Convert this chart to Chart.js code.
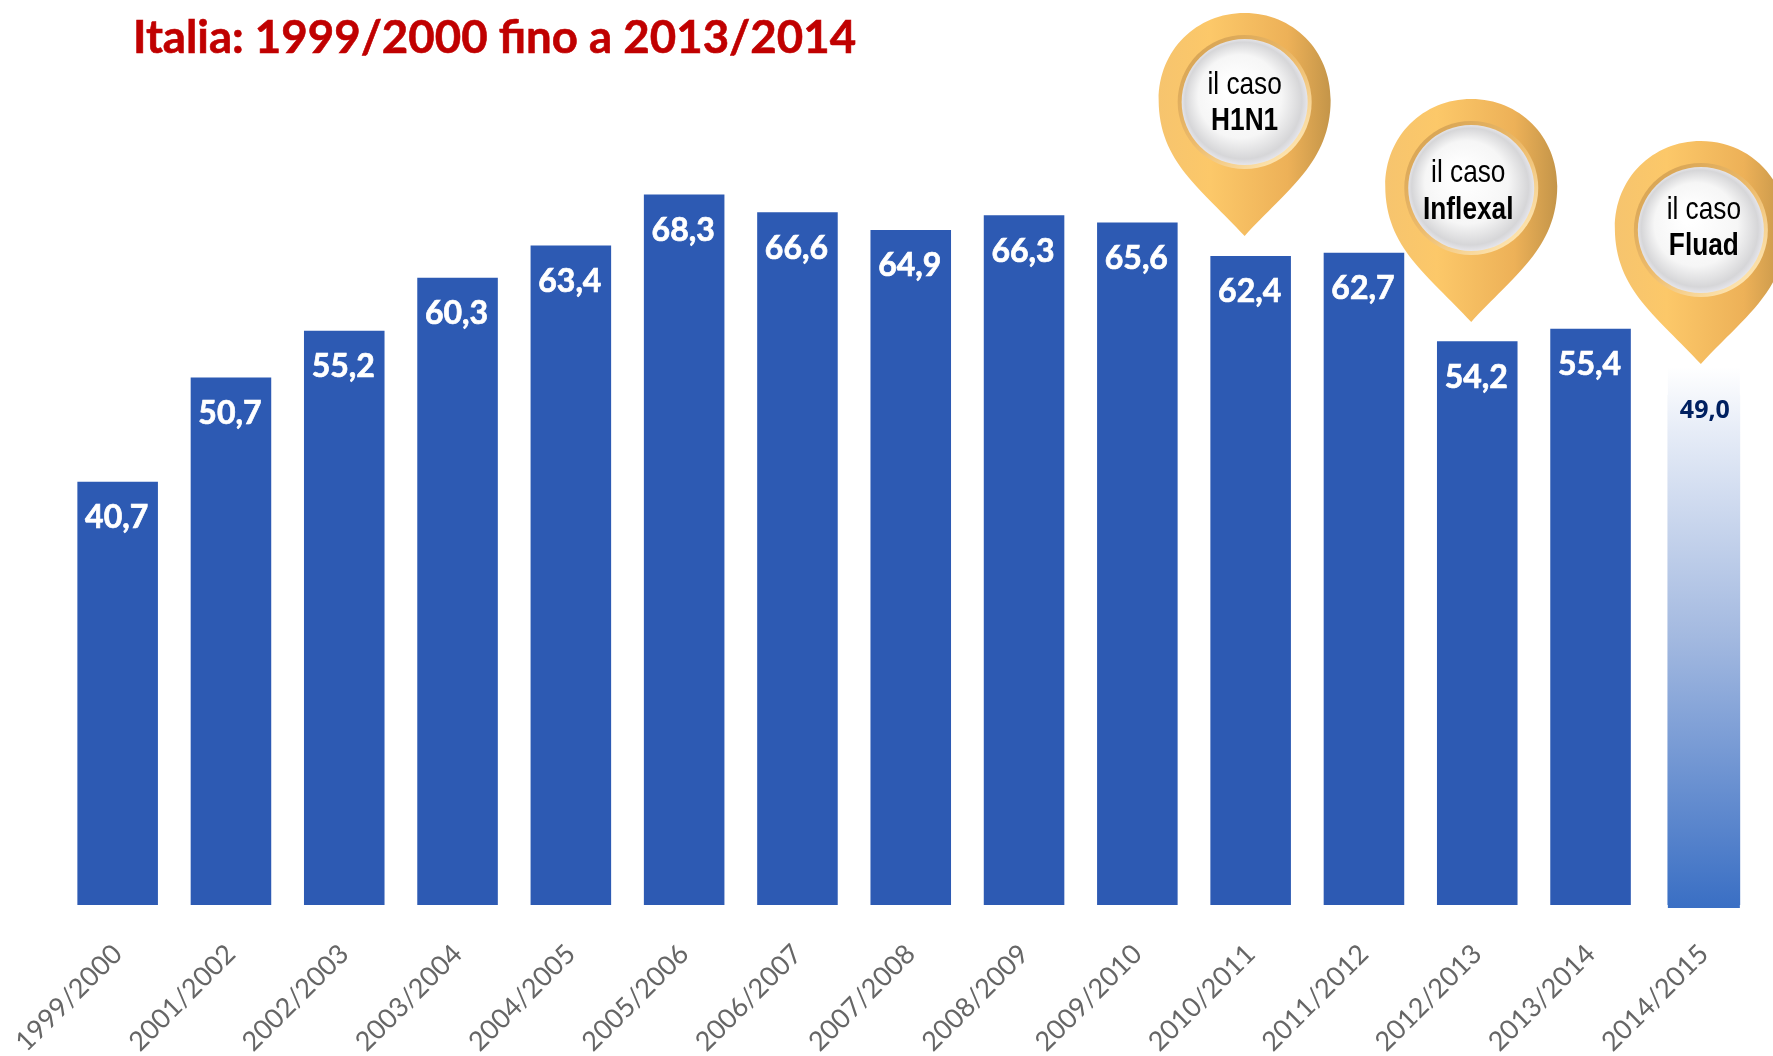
<!DOCTYPE html>
<html><head><meta charset="utf-8">
<style>html,body{margin:0;padding:0;background:#fff;overflow:hidden}canvas{display:block}</style>
<script src="https://cdn.jsdelivr.net/npm/chart.js@4/dist/chart.umd.min.js"></script>
</head><body><canvas id="c" width="1773" height="1056"></canvas>
<script>
const categories = ['1999/2000','2001/2002','2002/2003','2003/2004','2004/2005','2005/2006','2006/2007','2007/2008','2008/2009','2009/2010','2010/2011','2011/2012','2012/2013','2013/2014','2014/2015'];
const seasonValues = [40.7,50.7,55.2,60.3,63.4,68.3,66.6,64.9,66.3,65.6,62.4,62.7,54.2,55.4,null];
const lastSeasonValues = [null,null,null,null,null,null,null,null,null,null,null,null,null,null,49.0];
const titleText = 'Italia: 1999/2000 fino a 2013/2014';
const pins = [
  {category:'2010/2011', name:'H1N1',     dx:-6, cy:102, tx:0,  y1:-18, y2:18},
  {category:'2012/2013', name:'Inflexal', dx:-6, cy:188, tx:-3, y1:-16, y2:21},
  {category:'2014/2015', name:'Fluad',    dx:-3, cy:230, tx:3,  y1:-21, y2:15}
];
const fmt = v => v.toFixed(1).replace('.', ',');

function lastGradient(ctx){
  const g = ctx.createLinearGradient(0,367,0,907);
  g.addColorStop(0,'#FFFFFF');
  g.addColorStop(0.12,'#E6ECF7');
  g.addColorStop(0.5,'#A3B9E0');
  g.addColorStop(1,'#3A6FC4');
  return g;
}
function drawPin(ctx,cx,cy){
  const R=86, T=134;
  ctx.save();
  ctx.beginPath();
  ctx.moveTo(cx,cy+T);
  ctx.bezierCurveTo(cx-42,cy+88,cx-R,cy+60,cx-R,cy-2);
  ctx.bezierCurveTo(cx-R,cy-52,cx-48,cy-89,cx,cy-89);
  ctx.bezierCurveTo(cx+48,cy-89,cx+R,cy-52,cx+R,cy-2);
  ctx.bezierCurveTo(cx+R,cy+60,cx+42,cy+88,cx,cy+T);
  ctx.closePath();
  const g=ctx.createLinearGradient(cx-R,0,cx+R,0);
  g.addColorStop(0,'#F6C46E'); g.addColorStop(0.3,'#FCC869');
  g.addColorStop(0.75,'#EDB158'); g.addColorStop(1,'#C49549');
  ctx.fillStyle=g; ctx.fill();
  const rim=ctx.createLinearGradient(cx-50,cy-60,cx+50,cy+60);
  rim.addColorStop(0,'#D6A353'); rim.addColorStop(0.5,'#EDBB6B'); rim.addColorStop(1,'#FFE9B8');
  ctx.beginPath(); ctx.arc(cx,cy,67,0,Math.PI*2); ctx.fillStyle=rim; ctx.fill();
  const face=ctx.createRadialGradient(cx-12,cy-14,8,cx,cy,64);
  face.addColorStop(0,'#FFFFFF'); face.addColorStop(0.6,'#F6F6F6'); face.addColorStop(0.9,'#D6D6D8'); face.addColorStop(1,'#E8E8EE');
  ctx.beginPath(); ctx.arc(cx,cy,63,0,Math.PI*2); ctx.fillStyle=face; ctx.fill();
  ctx.restore();
}
function narrowText(ctx,text,x,y,font){
  ctx.save();
  ctx.translate(x,y);
  ctx.scale(0.82,1);
  ctx.font=font;
  ctx.fillText(text,0,0);
  ctx.restore();
}
const decor = {
  id:'decor',
  beforeDatasetsDraw(chart){
    const ctx=chart.ctx, el=chart.getDatasetMeta(1).data[14];
    ctx.save();
    ctx.fillStyle=lastGradient(ctx);
    ctx.fillRect(el.x-36,367,72,541);
    ctx.restore();
  },
  afterDatasetsDraw(chart){
    const ctx=chart.ctx, xs=chart.scales.x;
    ctx.save();
    ctx.textAlign='center'; ctx.textBaseline='middle';
    const m0=chart.getDatasetMeta(0);
    ctx.fillStyle='#FFFFFF'; ctx.font='bold 32px Lato';
    ctx.strokeStyle='#FFFFFF'; ctx.lineWidth=0.7;
    seasonValues.forEach((v,i)=>{ if(v==null) return;
      const el=m0.data[i];
      ctx.fillText(fmt(v),el.x-1,el.y+36);
      ctx.strokeText(fmt(v),el.x-1,el.y+36);
    });
    const e=chart.getDatasetMeta(1).data[14];
    ctx.fillStyle='#002060'; ctx.font='bold 25px "Open Sans"';
    ctx.fillText(fmt(lastSeasonValues[14]),e.x+1,e.y+16);
    pins.forEach(p=>{
      const cx=xs.getPixelForValue(categories.indexOf(p.category))+p.dx;
      drawPin(ctx,cx,p.cy);
      ctx.fillStyle='#000';
      narrowText(ctx,'il caso',cx+p.tx,p.cy+p.y1+1,'32px "Liberation Sans"');
      narrowText(ctx,p.name,cx+p.tx,p.cy+p.y2+1,'bold 32px "Liberation Sans"');
    });
    ctx.textAlign='left';
    ctx.fillStyle='#C00000'; ctx.font='bold 45.6px Lato';
    ctx.strokeStyle='#C00000'; ctx.lineWidth=0.6;
    ctx.fillText(titleText,133,38);
    ctx.strokeText(titleText,133,38);
    ctx.restore();
  }
};
new Chart(document.getElementById('c').getContext('2d'),{
  type:'bar',
  data:{labels:categories,datasets:[
    {label:'Italia',data:seasonValues,backgroundColor:'#2D5AB3',barPercentage:0.711,categoryPercentage:1,grouped:false},
    {label:'2014/2015',data:lastSeasonValues,backgroundColor:c=>lastGradient(c.chart.ctx),barThickness:72,grouped:false}
  ]},
  options:{
    responsive:false,animation:false,
    layout:{padding:{left:61,right:12.5,top:0,bottom:0}},
    plugins:{legend:{display:false},tooltip:{enabled:false}},
    scales:{
      y:{display:false,min:0,max:87},
      x:{
        offset:true,
        grid:{display:false},border:{display:false},
        afterFit(s){s.height=151;s.paddingLeft=0;s.paddingRight=0;},
        ticks:{autoSkip:false,minRotation:45,maxRotation:45,color:'#666666',padding:25,font:{family:'Lato',size:27}}
      }
    }
  },
  plugins:[decor]
});
</script></body></html>
